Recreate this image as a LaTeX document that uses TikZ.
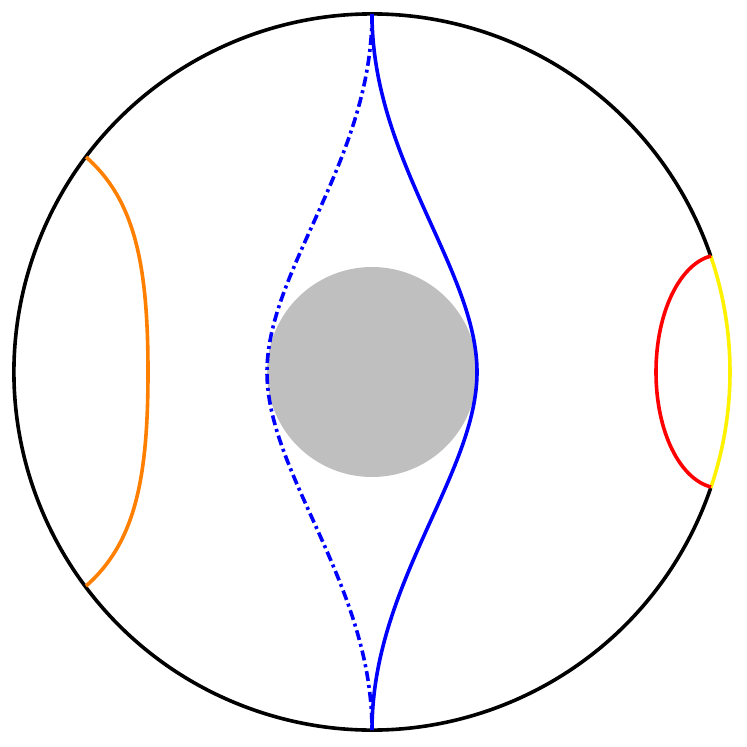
\documentclass[tikz,border=0pt]{standalone}
\begin{document}
\begin{tikzpicture}[x=1pt,y=-1pt,
  rim/.style={line width=3.6pt},
  geo/.style={line width=3.6pt}]
\useasboundingbox (0,0) rectangle (747,747);
\coordinate (C) at (372,372);
\fill[lightgray] (C) circle[radius=105];
% boundary: black part and yellow part
\draw[rim] ([shift={(18.9:358)}]C) arc[start angle=18.9,end angle=341.1,radius=358];
\draw[geo,yellow] ([shift={(-18.9:358)}]C) arc[start angle=-18.9,end angle=18.9,radius=358];
\coordinate (T) at (372,14);
\coordinate (B) at (372,730);
\draw[geo,blue] (T) .. controls (372,160) and (477,270) .. (477,372)
                    .. controls (477,474) and (372,584) .. (B);
\draw[geo,blue,dash pattern=on 10pt off 4pt on 3pt off 4pt] (T) .. controls (372,160) and (267,270) .. (267,372)
                    .. controls (267,474) and (372,584) .. (B);
\coordinate (O1) at (86,157);
\coordinate (O2) at (86,586);
\draw[geo,orange] (O1) .. controls (135,200) and (148,265) .. (148,372)
                     .. controls (148,479) and (135,543) .. (O2);
\coordinate (R1) at (711,256);
\coordinate (R2) at (711,487);
\draw[geo,red] (R1) .. controls (680,264) and (656,312) .. (656,372)
                   .. controls (656,432) and (680,479) .. (R2);
\end{tikzpicture}
\end{document}
